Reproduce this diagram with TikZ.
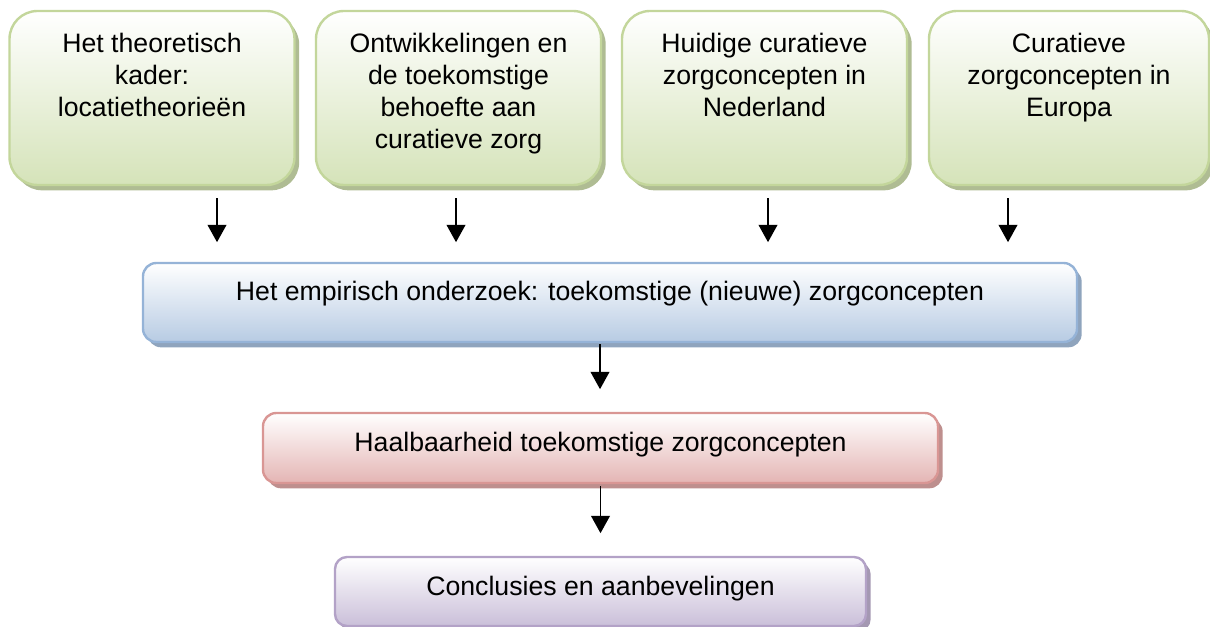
\documentclass[tikz,border=0pt]{standalone}
\usepackage{fontspec}
\setmainfont{Liberation Sans}
\usepackage{xcolor}
\usepackage{tikz}
\usetikzlibrary{arrows.meta, positioning, shadows}
\definecolor{kadergreen}{HTML}{C3D69B}
\definecolor{kadergreenfill}{HTML}{D5E3B9}
\definecolor{empblue}{HTML}{95B3D7}
\definecolor{empbluefill}{HTML}{B7CBE3}
\definecolor{haalred}{HTML}{D99694}
\definecolor{haalredfill}{HTML}{E4B5B4}
\definecolor{conclpurple}{HTML}{B3A2C7}
\definecolor{conclpurplefill}{HTML}{CABFD9}

\begin{document}
\begin{tikzpicture}[
    x=0.75pt, y=-0.75pt,
    every node/.style={font=\fontsize{20}{24}\selectfont},
    box/.style={draw=#1, line width=1.8pt, top color=white, bottom color=#1fill,
        general shadow={fill=#1!70!gray, shadow xshift=3.5pt, shadow yshift=-4pt}},
    topbox/.style={box=kadergreen, rounded corners=21pt, minimum width=213.75pt, minimum height=130.5pt},
    toptxt/.style={align=center, inner sep=0pt},
    arr/.style={-{Triangle[width=14pt, length=13pt]}, line width=1.4pt},
]
\useasboundingbox (0,0) rectangle (1210,627);

% Top row
\node[topbox] (kader) at (152,98) {};
\node[toptxt, below=17.25pt of kader.north] (kaderT) {Het theoretisch\\kader:\\locatietheorieën};

\node[topbox] (ontw) at (458.5,98) {};
\node[toptxt, below=17.25pt of ontw.north] (ontwT) {Ontwikkelingen en\\de toekomstige\\behoefte aan\\curatieve zorg};

\node[topbox] (huidig) at (764.5,98) {};
\node[toptxt, below=17.25pt of huidig.north] (huidigT) {Huidige curatieve\\zorgconcepten in\\Nederland};

\node[topbox, minimum width=210pt] (europa) at (1069,98) {};
\node[toptxt, below=17.25pt of europa.north] (europaT) {Curatieve\\zorgconcepten in\\Europa};

% Empirisch onderzoek
\node[box=empblue, rounded corners=10pt, minimum width=700.5pt, minimum height=59.25pt, text depth=18pt] (emp) at (610,302.5)
    {Het empirisch onderzoek: toekomstige (nieuwe) zorgconcepten};

% Haalbaarheid
\node[box=haalred, rounded corners=10pt, minimum width=506.25pt, minimum height=52.5pt, text depth=8.5pt] (haal) at (600.5,448)
    {Haalbaarheid toekomstige zorgconcepten};

% Conclusies
\node[box=conclpurple, rounded corners=9pt, minimum width=398.25pt, minimum height=51.75pt, text depth=8.5pt] (concl) at (600.5,591.5)
    {Conclusies en aanbevelingen};

% Arrows
\draw[arr] (kader.south) ++(65,12) -- ++(0,44);
\draw[arr] (ontw.south) ++(-2.5,12) -- ++(0,44);
\draw[arr] (huidig.south) ++(3.5,12) -- ++(0,44);
\draw[arr] (europa.south) ++(-61,12) -- ++(0,44);
\draw[arr] (emp.south) ++(-10,1) -- ++(0,45);
\draw[arr] (haal.south) ++(0,2) -- ++(0,47);

\end{tikzpicture}
\end{document}
